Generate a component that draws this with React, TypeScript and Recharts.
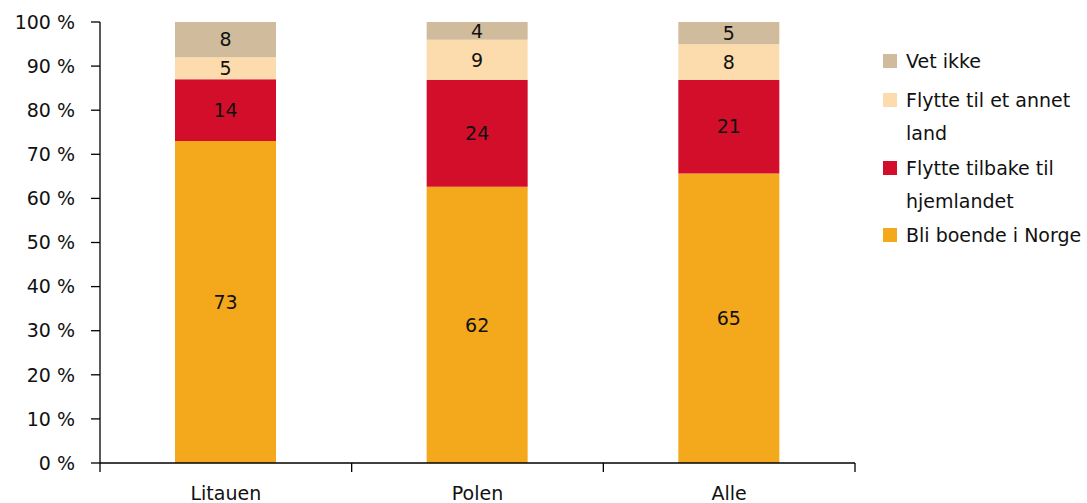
import React from 'react';
import { BarChart, Bar, XAxis, YAxis, LabelList, Legend } from 'recharts';

const categories = ['Litauen', 'Polen', 'Alle'];
const stayValues = [73, 62, 65];
const backValues = [14, 24, 21];
const otherValues = [5, 9, 8];
const unknownValues = [8, 4, 5];
const yTicks = [0, 0.1, 0.2, 0.3, 0.4, 0.5, 0.6, 0.7, 0.8, 0.9, 1];

const seriesNames = {
  stay: 'Bli boende i Norge',
  back: 'Flytte tilbake til hjemlandet',
  other: 'Flytte til et annet land',
  unknown: 'Vet ikke',
};

const colors = {
  stay: '#F4A81C',
  back: '#D30E2A',
  other: '#FCDCAC',
  unknown: '#D0BC9C',
};

const data = categories.map((c, i) => ({
  name: c,
  stay: stayValues[i],
  back: backValues[i],
  other: otherValues[i],
  unknown: unknownValues[i],
}));

const FONT = '"DejaVu Sans", Verdana, sans-serif';

const legendItems = [
  { key: 'unknown', lines: ['Vet ikke'], top: 61 },
  { key: 'other', lines: ['Flytte til et annet', 'land'], top: 100 },
  { key: 'back', lines: ['Flytte tilbake til', 'hjemlandet'], top: 168 },
  { key: 'stay', lines: ['Bli boende i Norge'], top: 235 },
];

const renderLegend = () => (
  <div style={{ position: 'relative', width: 1087, height: 503, fontFamily: FONT, fontSize: 19, color: '#111' }}>
    {legendItems.map((it) => (
      <React.Fragment key={it.key}>
        <div
          style={{
            position: 'absolute',
            left: 883,
            top: it.top - 7,
            width: 14,
            height: 14,
            background: (colors as any)[it.key],
          }}
        />
        <div style={{ position: 'absolute', left: 906, top: it.top - 16.5, lineHeight: '33px', whiteSpace: 'nowrap' }}>
          {it.lines.map((l, j) => (
            <div key={j}>{l}</div>
          ))}
        </div>
      </React.Fragment>
    ))}
  </div>
);

const CategoryTick = (props: any) => {
  const { x, y, payload, index, visibleTicksCount } = props;
  const half = payload && payload.offset ? payload.offset : 0;
  const isLast = index === visibleTicksCount - 1;
  return (
    <g>
      <line x1={x - half} x2={x - half} y1={y} y2={y + 9} stroke="#000" strokeWidth={1.3} />
      {isLast && <line x1={x + half} x2={x + half} y1={y} y2={y + 9} stroke="#000" strokeWidth={1.3} />}
      <text x={x} y={y + 24} dy="0.71em" textAnchor="middle" fill="#111" fontSize={19} fontFamily={FONT}>
        {payload.value}
      </text>
    </g>
  );
};

export default function App() {
  return (
    <div style={{ position: 'absolute', left: 0, top: 0, width: 1087, height: 503, background: '#fff' }}>
      <BarChart
        width={1087}
        height={503}
        data={data}
        stackOffset="expand"
        margin={{ top: 22, right: 232, bottom: 0, left: 0 }}
        barSize={101}
      >
        <XAxis
          dataKey="name"
          height={40}
          axisLine={{ stroke: '#000', strokeWidth: 1.3 }}
          tickLine={false}
          tickSize={0}
          tickMargin={0}
          interval={0}
          tick={<CategoryTick />}
        />
        <YAxis
          width={100}
          domain={[0, 1]}
          ticks={yTicks}
          tickFormatter={(v: number) => `${Math.round(v * 100)} %`}
          tickSize={9}
          tickMargin={16}
          axisLine={{ stroke: '#000', strokeWidth: 1.3 }}
          tickLine={{ stroke: '#000', strokeWidth: 1.3 }}
          tick={{ fill: '#111', fontSize: 19, fontFamily: FONT }}
        />
        <Legend
          layout="horizontal"
          align="center"
          verticalAlign="middle"
          wrapperStyle={{ left: 0, top: 0, width: 1087, height: 503, pointerEvents: 'none' }}
          content={renderLegend}
        />
        {(['stay', 'back', 'other', 'unknown'] as const).map((k) => (
          <Bar key={k} dataKey={k} name={(seriesNames as any)[k]} stackId="a" fill={colors[k]} isAnimationActive={false}>
            <LabelList dataKey={k} position="center" fill="#111" fontSize={19} fontFamily={FONT} />
          </Bar>
        ))}
      </BarChart>
    </div>
  );
}
